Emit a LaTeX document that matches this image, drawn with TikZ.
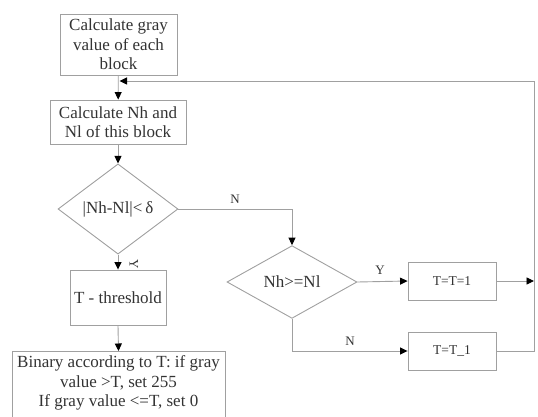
\documentclass[tikz,border=0pt]{standalone}
\usepackage{fontspec}
\setmainfont{Liberation Serif}
\usetikzlibrary{shapes.geometric,arrows.meta}

\definecolor{linegray}{HTML}{A0A0A0}
\definecolor{textgray}{HTML}{333333}

\tikzset{
	procbox/.style={draw=linegray, line width=0.9pt, text=textgray, align=center, inner sep=1pt,
		font=\fontsize{17}{19.5}\selectfont},
	decision/.style={draw=linegray, line width=0.9pt, diamond, text=textgray, inner sep=1pt,
		font=\fontsize{17}{19}\selectfont},
	flow/.style={draw=linegray, line width=0.9pt, -{Triangle[length=7.5pt,width=7pt,black]}},
	branch/.style={text=textgray, font=\fontsize{13}{15}\selectfont}
}

\begin{document}
\begin{tikzpicture}[x=1pt, y=-1pt]
	\useasboundingbox (0,0) rectangle (538,417);
	\clip (0,0) rectangle (538,417);

	% Left column
	\node[procbox, minimum width=117pt, minimum height=61pt] (gray) at (118.5,44.5)
		{Calculate gray\\value of each\\block};
	\node[procbox, minimum width=136pt, minimum height=44pt] (count) at (118,122)
		{Calculate Nh and\\Nl of this block};
	\node[decision, minimum width=120pt, minimum height=70pt] (diff) at (118,209)
		{|Nh-Nl|<\,δ};
	\node[procbox, minimum width=96pt, minimum height=55pt] (thresh) at (118,297.5)
		{T - threshold};
	\node[procbox, minimum width=213pt, inner ysep=4.5pt, anchor=north] (binary) at (118.5,351)
		{Binary according to T: if gray\\value >T, set 255\\If gray value <=T, set 0\\~};

	% Right branch
	\node[decision, minimum width=130pt, minimum height=71pt] (cmp) at (292,282)
		{Nh>=Nl};
	\node[procbox, minimum width=88pt, minimum height=38pt, font=\fontsize{13.5}{15}\selectfont] (inc) at (452,281)
		{T=T=1};
	\node[procbox, minimum width=88pt, minimum height=38pt, font=\fontsize{13.5}{15}\selectfont] (dec) at (452,351)
		{T=T\_1};

	% Corners of the connectors
	\coordinate (loopin) at (119.5,81);
	\coordinate (loopbot) at (534,351);
	\coordinate (looptop) at (534,81);
	\coordinate (incend) at (534,281);

	% Main flow
	\draw[flow] (gray) -- (count);
	\draw[flow] (count) -- (diff);
	\draw[flow] (diff) -- (thresh);
	\draw[flow] (thresh.south) -- (binary.north);

	% Branches
	\draw[flow] (diff.east) -| (cmp.north);
	\draw[flow] (cmp.east) -- (inc.west);
	\draw[flow] (cmp.south) |- (dec.west);
	\draw[flow] (inc.east) -- (incend);
	\draw[flow] (dec.east) -- (loopbot) -- (looptop) -- (loopin);

	% Branch labels
	\node[branch] (ndiff) at (235,199) {N};
	\node[branch, rotate=-90] (ydiff) at (134,264) {Y};
	\node[branch] (ycmp) at (380,270) {Y};
	\node[branch] (ncmp) at (350,341) {N};
\end{tikzpicture}
\end{document}
